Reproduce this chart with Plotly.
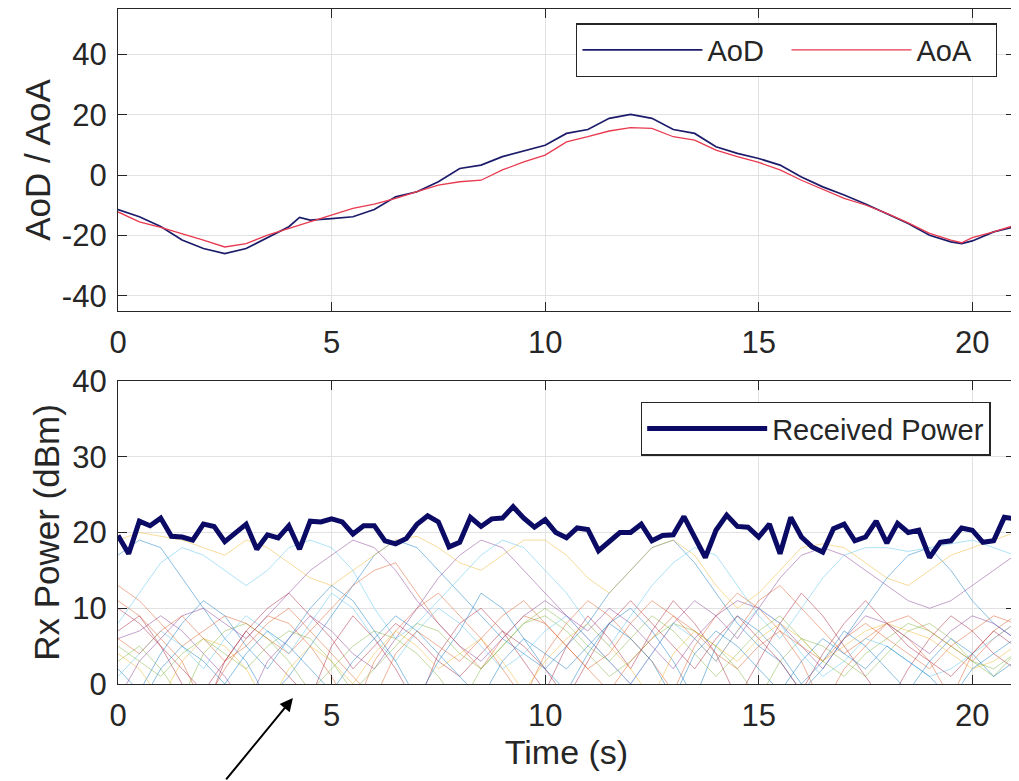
import plotly.graph_objects as go

# ---------------- data ----------------
ANGLE_TIME = [0, 0.5, 1, 1.5, 2, 2.5, 3, 3.5, 4, 4.25, 4.5, 5, 5.5, 6, 6.5, 7, 7.5, 8, 8.5,
              9, 9.5, 10, 10.5, 11, 11.5, 12, 12.5, 13, 13.5, 14, 14.5, 15, 15.5, 16,
              16.5, 17, 17.5, 18, 18.5, 19, 19.5, 19.75, 20, 20.5, 21]
AOD = [-11.4, -13.8, -17.0, -21.5, -24.3, -26.0, -24.3, -20.7, -17.1, -14.0, -14.9, -14.4,
       -13.8, -11.4, -7.2, -5.5, -2.2, 2.2, 3.3, 6.1, 8.1, 9.9, 13.8, 15.1, 18.8, 20.1,
       18.8, 15.1, 13.8, 9.4, 7.2, 5.5, 3.3, -0.6, -3.9, -6.6, -9.6, -12.7, -16.0, -19.9,
       -22.1, -22.7, -21.8, -18.8, -17.1]
AOA = [-12.2, -15.5, -17.3, -19.3, -21.5, -23.8, -22.7, -19.9, -17.7, -16.6, -15.5, -13.3,
       -11.0, -9.6, -7.7, -5.5, -3.3, -2.2, -1.7, 1.7, 4.4, 6.6, 11.0, 12.7, 14.6, 15.7,
       15.5, 12.7, 11.6, 8.3, 6.1, 4.2, 1.7, -1.7, -4.8, -7.7, -9.9, -12.7, -15.8, -19.3,
       -21.5, -22.4, -20.7, -18.8, -16.6]

POWER_TIME = [0, 0.25, 0.5, 0.75, 1, 1.25, 1.5, 1.75, 2, 2.25, 2.5, 2.75, 3, 3.25, 3.5, 3.75,
              4, 4.25, 4.5, 4.75, 5, 5.25, 5.5, 5.75, 6, 6.25, 6.5, 6.75, 7, 7.25, 7.5, 7.75,
              8, 8.25, 8.5, 8.75, 9, 9.25, 9.5, 9.75, 10, 10.25, 10.5, 10.75, 11, 11.25, 11.5,
              11.75, 12, 12.25, 12.5, 12.75, 13, 13.25, 13.5, 13.75, 14, 14.25, 14.5, 14.75,
              15, 15.25, 15.5, 15.75, 16, 16.25, 16.5, 16.75, 17, 17.25, 17.5, 17.75, 18,
              18.25, 18.5, 18.75, 19, 19.25, 19.5, 19.75, 20, 20.25, 20.5, 20.75, 21]
RX_POWER = [19.6, 17.2, 21.5, 20.9, 21.9, 19.5, 19.4, 19.0, 21.1, 20.8, 18.8, 20.0, 21.1,
            17.8, 19.7, 19.3, 20.9, 17.8, 21.5, 21.4, 21.8,
            21.4, 19.8, 20.9, 20.9, 18.9, 18.5, 19.2, 21.1, 22.2, 21.4, 18.1, 18.7, 22.0,
            20.8, 21.8, 21.9, 23.4, 21.9, 20.7, 21.7,
            20.0, 19.3, 20.6, 20.4, 17.6, 18.8, 20.0, 20.0, 21.1, 18.9, 19.6, 19.7, 22.1,
            19.4, 16.7, 20.3, 22.3, 20.8, 20.7, 19.4,
            21.1, 17.2, 22.0, 19.4, 18.1, 17.4, 20.5, 21.1, 18.9, 19.4, 21.5, 18.6, 21.2,
            20.0, 20.3, 16.7, 18.7, 18.9, 20.6, 20.3, 18.7, 18.9, 22.0, 21.8]

PATH_TIME = [0, 0.5, 1, 1.5, 2, 2.5, 3, 3.5, 4, 4.5, 5, 5.5, 6, 6.5, 7, 7.5, 8, 8.5, 9, 9.5,
             10, 10.5, 11, 11.5, 12, 12.5, 13, 13.5, 14, 14.5, 15, 15.5, 16, 16.5, 17, 17.5,
             18, 18.5, 19, 19.5, 20, 20.5, 21]
PATH_01 = [17, 19, 18, 14, 10, 6, 3, -2, 1, 5, 9, 13, 17, 19, 18, 15, 12, 9, 6, 4, 2, 5, 8, 12, 15, 18, 19, 16, 12, 8, 5, 3, -1, 2, 6, 10, 14, 17, 18, 15, 11, 8, 6]
PATH_02 = [11, 9, 6, 3, -3, 2, 6, 9, 8, 5, 1, -4, 3, 7, 10, 12, 9, 6, 2, -2, 4, 8, 11, 9, 6, 3, -1, 5, 9, 12, 10, 7, 3, -3, 2, 5, 8, 6, 3, -2, 4, 7, 9]
PATH_03 = [19, 20, 19.5, 19, 18, 17, 19, 18, 16, 14, 13, 15, 17, 19, 19.5, 18, 16, 15, 17, 19, 19, 17, 14, 12, 15, 18, 19, 17, 13, 10, 12, 15, 18, 18.5, 18, 16, 14, 13, 15, 17, 18, 19, 20]
PATH_04 = [6, 7, 9, 7, 4, 1, -3, 3, 6, 9, 7, 4, 2, 6, 10, 14, 17, 19, 18, 15, 12, 9, 6, 3, 0, 4, 8, 11, 9, 6, 10, 14, 17, 18, 17, 15, 13, 11, 10, 11, 13, 15, 17]
PATH_05 = [3, 5, 2, -2, 4, 7, 8, 6, 3, -1, 2, 5, 7, 6, 4, 1, -3, 2, 5, 8, 9, 7, 4, 1, 3, 6, 8, 7, 5, 2, -2, 3, 6, 5, 3, 1, 4, 7, 8, 6, 3, 1, 4]
PATH_06 = [8, 12, 16, 18, 17, 15, 13, 15, 18, 19, 18, 15, 10, 6, 8, 11, 14, 17, 19, 18, 15, 12, 8, 5, 9, 13, 16, 18, 17, 13, 9, 6, 10, 14, 17, 18, 18, 17.5, 18, 18.5, 19, 18, 17]
PATH_07 = [7, 9, 5, 0, -4, 3, 7, 4, 1, -2, 5, 9, 6, 2, -3, 4, 8, 10, 7, 3, -1, 5, 9, 6, 2, 7, 11, 8, 4, -2, 3, 8, 12, 9, 5, 1, -3, 2, 6, 9, 7, 4, 2]
PATH_08 = [2, -1, 4, 8, 11, 9, 5, 2, 6, 10, 13, 11, 7, 3, -2, 3, 7, 12, 10, 6, 2, -1, 4, 8, 10, 7, 3, -2, 5, 9, 7, 4, 0, 3, 7, 5, 2, -1, 3, 6, 4, 1, 3]
PATH_09 = [13, 11, 8, 5, 7, 9, 8, 6, 4, 7, 10, 13, 15, 16, 12, 8, 5, 2, 6, 9, 8, 5, 2, 4, 8, 11, 9, 6, 3, 7, 11, 13, 10, 7, 4, 6, 8, 9, 7, 5, 3, 6, 8]
PATH_10 = [4, 2, -2, 3, 6, 5, 2, -3, 2, 5, 3, 0, 4, 7, 5, 2, 4, 6, 3, -1, 3, 6, 8, 5, 2, -2, 4, 7, 5, 3, 6, 8, 6, 3, 5, 7, 8, 7, 6, 4, 2, 3, 5]
PATH_11 = [-2, 3, 6, 9, 10, 8, 6, 9, 12, 15, 17, 19, 18, 15, 11, 8, 5, 3, 6, 9, 11, 9, 7, 10, 8, 5, 2, 6, 9, 11, 10, 8, 5, 2, 6, 9, 8, 6, 4, 7, 9, 8, 6]
PATH_12 = [5, 3, 1, 4, 6, 4, 2, 5, 7, 6, 3, -1, 2, 5, 8, 7, 4, 2, 5, 8, 10, 8, 5, 3, 6, 9, 7, 4, 1, 4, 7, 9, 6, 3, 1, 4, 6, 8, 7, 5, 3, 2, 4]
PATH_13 = [1, 4, 7, 5, 2, 6, 9, 7, 4, 8, 12, 10, 6, 3, 7, 10, 8, 5, 2, 4, 7, 9, 6, 3, 0, 4, 8, 6, 3, 7, 10, 8, 4, 1, 3, 6, 5, 3, 1, 2, 4, 6, 8]
PATH_14 = [10, 8, 5, 2, -1, 3, 7, 10, 12, 9, 6, 2, 5, 8, 6, 3, 1, 4, 7, 5, 2, -2, 3, 8, 11, 8, 5, 2, 6, 9, 6, 3, -1, 4, 8, 11, 8, 5, 3, 1, 4, 7, 5]
PATH_15 = [0, -3, 2, 5, 3, 0, 4, 7, 5, 2, -1, 3, 6, 9, 7, 4, 1, -2, 3, 6, 4, 2, 5, 8, 6, 3, -2, 4, 7, 5, 2, -1, 3, 6, 4, 2, 5, 3, 1, -2, 2, 4, 6]
PATH_16 = [6, 4, 7, 9, 6, 3, 5, 8, 10, 7, 4, 1, -2, 4, 7, 5, 3, 6, 9, 11, 8, 5, 2, -1, 3, 6, 9, 7, 4, 2, 5, 7, 5, 3, 6, 8, 6, 4, 2, 5, 7, 9, 8]

PATHS = [PATH_01, PATH_02, PATH_03, PATH_04, PATH_05, PATH_06, PATH_07, PATH_08,
         PATH_09, PATH_10, PATH_11, PATH_12, PATH_13, PATH_14, PATH_15, PATH_16]

X_TICKS = [0, 5, 10, 15, 20]
ANGLE_TICKS = [-40, -20, 0, 20, 40]
ANGLE_TICK_TEXT = ["-40", "-20", "0", "20", "40"]
POWER_TICKS = [0, 10, 20, 30, 40]

PATH_COLORS = ["rgba(0,114,189,0.45)", "rgba(217,83,25,0.45)", "rgba(237,177,32,0.45)",
               "rgba(126,47,142,0.45)", "rgba(119,172,48,0.45)", "rgba(77,190,238,0.45)",
               "rgba(162,20,47,0.45)"]

FONT = "Liberation Sans, Arial, sans-serif"
TXT = "#262626"

fig = go.Figure()

fig.add_trace(go.Scatter(x=ANGLE_TIME, y=AOD, mode="lines", name="AoD",
                         line=dict(color="#1c1c6b", width=1.7),
                         xaxis="x", yaxis="y", legend="legend"))
fig.add_trace(go.Scatter(x=ANGLE_TIME, y=AOA, mode="lines", name="AoA",
                         line=dict(color="#e8394f", width=1.3),
                         xaxis="x", yaxis="y", legend="legend"))

for i, p in enumerate(PATHS):
    fig.add_trace(go.Scatter(x=PATH_TIME, y=p, mode="lines", showlegend=False,
                             line=dict(color=PATH_COLORS[i % len(PATH_COLORS)], width=1),
                             xaxis="x2", yaxis="y2", hoverinfo="skip"))

fig.add_trace(go.Scatter(x=POWER_TIME, y=RX_POWER, mode="lines", name="Received Power",
                         line=dict(color="#0b0b66", width=5),
                         xaxis="x2", yaxis="y2", legend="legend2"))

axis_common = dict(showline=True, linecolor=TXT, linewidth=1.3, mirror="ticks",
                   ticks="inside", ticklen=9, tickcolor=TXT, tickwidth=1.2,
                   showgrid=True, gridcolor="#e2e2e2", gridwidth=1, zeroline=False,
                   automargin=False,
                   tickfont=dict(family=FONT, size=31, color=TXT))

# the page adds an 8px body margin, so the figure is offset by 8px right/down
fig.update_layout(
    width=1019, height=781,
    margin=dict(l=110, r=12, t=1, b=105, autoexpand=False),
    paper_bgcolor="white", plot_bgcolor="white",
    font=dict(family=FONT, color=TXT),
    xaxis=dict(axis_common, domain=[0, 1], range=[0, 21], anchor="y",
               tickvals=X_TICKS, ticklabelstandoff=4),
    yaxis=dict(axis_common, domain=[0.5526, 1], range=[-45, 55], anchor="x",
               tickvals=ANGLE_TICKS, ticktext=ANGLE_TICK_TEXT, ticklabelstandoff=4,
               title=dict(text="AoD / AoA", font=dict(family=FONT, size=35, color=TXT),
                          standoff=0)),
    xaxis2=dict(axis_common, domain=[0, 1], range=[0, 21], anchor="y2",
                tickvals=X_TICKS, ticklabelstandoff=4,
                title=dict(text="Time (s)", font=dict(family=FONT, size=34, color=TXT),
                           standoff=7)),
    yaxis2=dict(axis_common, domain=[0, 0.4489], range=[0, 40], anchor="x2",
                tickvals=POWER_TICKS, ticklabelstandoff=4,
                title=dict(text="Rx Power (dBm)", font=dict(family=FONT, size=35, color=TXT),
                           standoff=1)),
    legend=dict(orientation="h", x=0.98, xanchor="right", y=0.979, yanchor="top",
                bgcolor="white", bordercolor=TXT, borderwidth=1.4,
                font=dict(family=FONT, size=29, color=TXT), itemwidth=120,
                entrywidth=74),
    legend2=dict(orientation="h", x=0.973, xanchor="right", y=0.418, yanchor="top",
                 bgcolor="white", bordercolor=TXT, borderwidth=1.4,
                 font=dict(family=FONT, size=29, color=TXT), itemwidth=120),
    annotations=[dict(x=0.195, y=-0.0207, xref="paper", yref="paper",
                      ax=-68, ay=83, axref="pixel", ayref="pixel",
                      showarrow=True, arrowhead=2, arrowsize=1.3, arrowwidth=2,
                      arrowcolor="black", text="")],
)

fig.write_html("out.html")
